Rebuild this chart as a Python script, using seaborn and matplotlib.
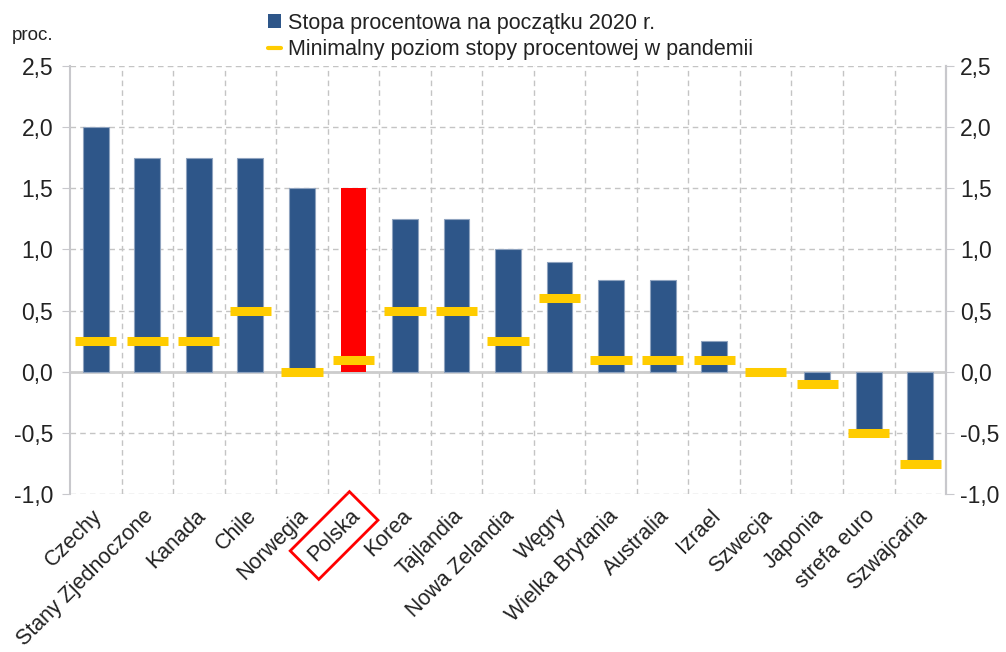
import matplotlib
matplotlib.use("Agg")
import matplotlib.pyplot as plt
import matplotlib.transforms as mtransforms
from matplotlib.lines import Line2D
from matplotlib.patches import Patch
from matplotlib.ticker import FuncFormatter
import seaborn as sns
import pandas as pd
import numpy as np

# -----------------------------
# Data
# -----------------------------
countries = ["Czechy", "Stany Zjednoczone", "Kanada", "Chile", "Norwegia", "Polska",
             "Korea", "Tajlandia", "Nowa Zelandia", "Węgry", "Wielka Brytania",
             "Australia", "Izrael", "Szwecja", "Japonia", "strefa euro", "Szwajcaria"]
rate_2020 = [2.0, 1.75, 1.75, 1.75, 1.5, 1.5, 1.25, 1.25, 1.0, 0.9, 0.75, 0.75,
             0.25, 0.0, -0.1, -0.5, -0.75]
rate_min = [0.25, 0.25, 0.25, 0.5, 0.0, 0.1, 0.5, 0.5, 0.25, 0.6, 0.1, 0.1,
            0.1, 0.0, -0.1, -0.5, -0.75]
y_ticks = [-1.0, -0.5, 0.0, 0.5, 1.0, 1.5, 2.0, 2.5]

label_bar = "Stopa procentowa na początku 2020 r."
label_min = "Minimalny poziom stopy procentowej w pandemii"

BLUE = "#2E5689"
RED = "#FF0000"
YELLOW = "#FFCC00"
GRID = "#C4C4C4"
TXT = "#222222"

df = pd.DataFrame({"kraj": countries, "stopa": rate_2020, "minimum": rate_min})

sns.set_style("white")
plt.rcParams["font.family"] = ["Liberation Sans", "DejaVu Sans"]

fig = plt.figure(figsize=(10.06, 6.52), dpi=100)
ax = fig.add_axes([0.0696, 0.242, 0.8708, 0.657])

# -----------------------------
# Bars + pandemic minimum markers
# -----------------------------
palette = [RED if c == "Polska" else BLUE for c in countries]
sns.barplot(data=df, x="kraj", y="stopa", hue="kraj", palette=palette, legend=False,
            width=0.5, saturation=1, ax=ax, edgecolor="#8FA3BF", linewidth=0.8, zorder=3)
for p, c in zip(ax.patches, countries):
    if c == "Polska":
        p.set_edgecolor("none")

xpos = np.arange(len(countries))
ax.hlines(df["minimum"], xpos - 0.4, xpos + 0.4, colors=YELLOW, linewidth=6.5,
          capstyle="butt", zorder=4)

ax.set_xlim(-0.5, len(countries) - 0.5)
ax.set_ylim(-1.0, 2.5)
ax.set_yticks(y_ticks)
fmt = FuncFormatter(lambda v, _: f"{v:.1f}".replace(".", ","))
ax.yaxis.set_major_formatter(fmt)

# grid
for yv in y_ticks:
    ax.axhline(yv, color=GRID, lw=1, ls=(0, (4, 3)), zorder=1)
for xv in np.arange(0.5, len(countries) - 0.5, 1):
    ax.axvline(xv, color=GRID, lw=1, ls=(0, (4, 3)), zorder=1)
ax.axhline(0, color="#CCCCCC", lw=2, zorder=2)

for s in ["top", "bottom"]:
    ax.spines[s].set_visible(False)
for s in ["left", "right"]:
    ax.spines[s].set_color("#C8C8CC")
    ax.spines[s].set_linewidth(1.5)

ax.set_xlabel("")
ax.set_ylabel("")
ax.tick_params(axis="y", length=6, color="#C8C8CC", labelsize=16.5, labelcolor=TXT, pad=6)
ax.tick_params(axis="x", length=0, labelsize=15.5, labelcolor=TXT, pad=8)
ax.set_xticks(xpos)
ax.set_xticklabels(countries, rotation=45, ha="right", rotation_mode="anchor")
shift = mtransforms.ScaledTranslation(-4 / 100, 0, fig.dpi_scale_trans)
for lbl in ax.get_xticklabels():
    lbl.set_transform(lbl.get_transform() + shift)
    if lbl.get_text() == "Polska":
        lbl.set_bbox(dict(boxstyle="square,pad=0.45", fc="none", ec=RED, lw=2))

ax2 = ax.twinx()
ax2.set_ylim(ax.get_ylim())
ax2.set_yticks(y_ticks)
ax2.yaxis.set_major_formatter(fmt)
ax2.tick_params(axis="y", length=6, color="#C8C8CC", labelsize=16.5, labelcolor=TXT, pad=4)
for s in ["top", "bottom", "left"]:
    ax2.spines[s].set_visible(False)
ax2.spines["right"].set_color("#C8C8CC")
ax2.spines["right"].set_linewidth(1.5)

fig.text(0.012, 0.945, "proc.", fontsize=13.5, color=TXT, va="center")

handles = [Patch(facecolor=BLUE, edgecolor="none"),
           Line2D([0], [0], color=YELLOW, lw=3)]
fig.legend(handles, [label_bar, label_min], loc="upper left",
           bbox_to_anchor=(0.254, 1.0), frameon=False, fontsize=15.5,
           handlelength=0.6, handleheight=0.6, handletextpad=0.3,
           labelspacing=0.25, borderaxespad=0.2, labelcolor=TXT)

plt.savefig("out.png", dpi=100)
